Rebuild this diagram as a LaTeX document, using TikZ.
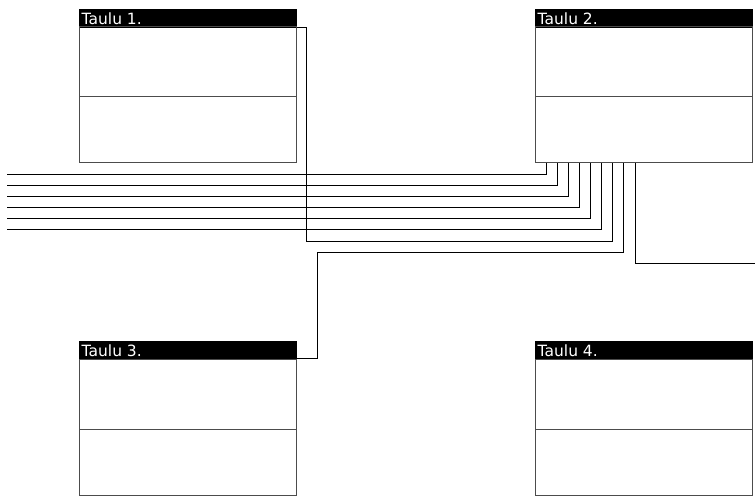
\documentclass[tikz,border=0pt]{standalone}
\usepackage{fontspec}
\setmainfont{DejaVu Sans}
\begin{document}
\begin{tikzpicture}[x=1pt,y=-1pt,
  box/.style={draw=black!70, line width=1pt},
  head/.style={fill=black, draw=black},
  htext/.style={anchor=base west, text=white, inner sep=0pt, font=\fontsize{15.5}{15.5}\selectfont},
  conn/.style={draw=black, line width=0.9pt}]
\useasboundingbox (0,0) rectangle (755,497);
% tables
\foreach \n/\x/\y in {1/79.5/9, 2/535.5/9, 3/79.5/341, 4/535.5/341}{
  \fill[head] (\x,\y) rectangle (\x+217,\y+18);
  \node[htext] (h\n) at (\x+2,\y+15.5) {Taulu \n.};
  \draw[box] (\x,\y+18) rectangle (\x+217,\y+154);
  \draw[box] (\x,\y+88) -- (\x+217,\y+88);
  \coordinate (t\n) at (\x,\y);
}
% connectors into Taulu 2 from left
\foreach \i/\xx/\yy in {1/546/174.5, 2/557/185.5, 3/568/196.5, 4/579/207.5, 5/590/218.5, 6/601/229.5}{
  \coordinate (s\i) at (7,\yy);
  \coordinate (e\i) at (\xx,163);
  \draw[conn] (s\i) -- (\xx,\yy) -- (e\i);
}
% Taulu 1 -> Taulu 2
\coordinate (a1) at (296.5,27);
\coordinate (a2) at (612,163);
\draw[conn] (a1) -- (306.5,27) -- (306.5,241) -- (612,241) -- (a2);
% Taulu 3 -> Taulu 2
\coordinate (b1) at (296.5,358);
\coordinate (b2) at (623.5,163);
\draw[conn] (b1) -- (317.5,358) -- (317.5,252.5) -- (623.5,252.5) -- (b2);
% Taulu 2 -> off right
\coordinate (c1) at (635,163);
\coordinate (c2) at (755,263.5);
\draw[conn] (c1) -- (635,263.5) -- (c2);
\end{tikzpicture}
\end{document}
